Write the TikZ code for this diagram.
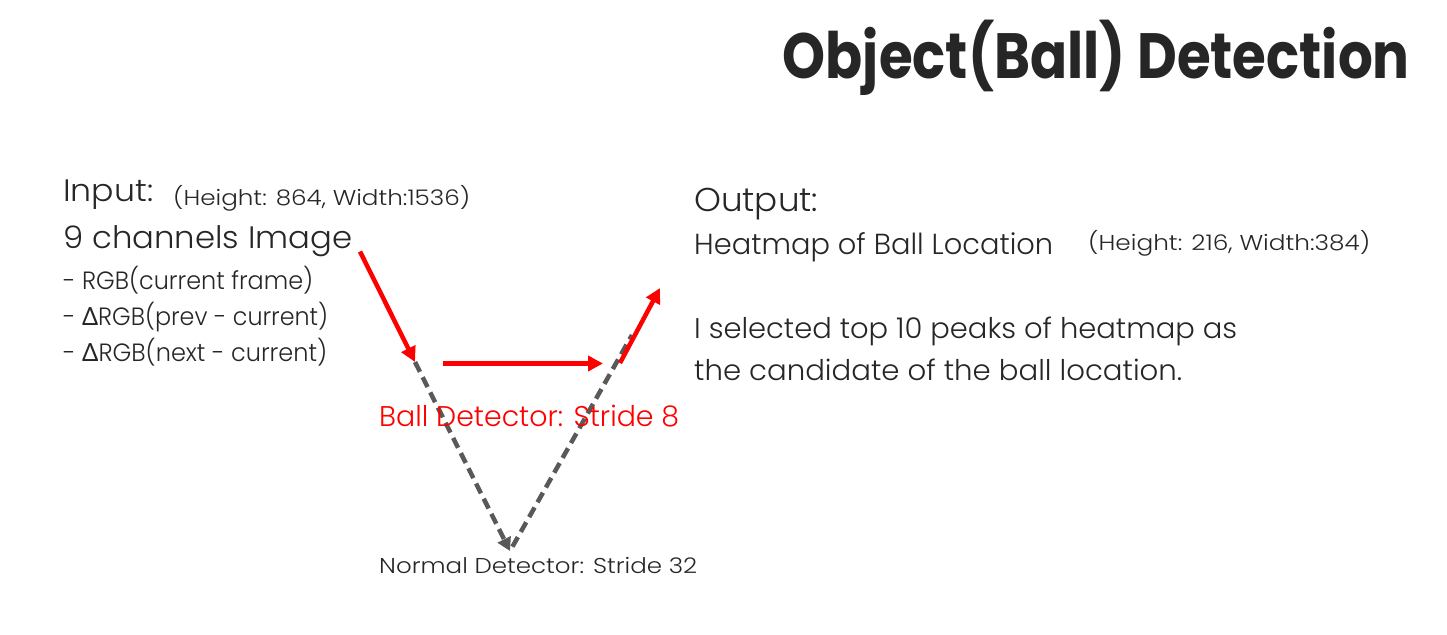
\documentclass[tikz,border=0pt]{standalone}
\usepackage{fontspec}
\setmainfont{Poppins}[UprightFont=* Light, BoldFont=* Bold]
\newfontfamily\dfont{Lato}
\usetikzlibrary{arrows.meta}
\definecolor{txt}{HTML}{262626}
\definecolor{dgray}{HTML}{595959}
\definecolor{bred}{HTML}{FF0000}
\newcommand{\fw}[2]{\resizebox{#1pt}{\height}{#2}}
\tikzset{
  lbl/.style={anchor=base west, inner sep=0pt, text=txt},
  redarrow/.style={draw=bred, line width=4.5pt, -{Triangle[length=15pt,width=15pt]}},
  grayarrow/.style={draw=dgray, line width=4.5pt, dash pattern=on 11pt off 6pt, -{Triangle[length=13pt,width=14pt]}},
  grayline/.style={draw=dgray, line width=4.5pt, dash pattern=on 11pt off 6pt}
}
\begin{document}
\begin{tikzpicture}[x=1pt,y=-1pt]
\useasboundingbox (0,0) rectangle (1447,634);
% title
\node[lbl, anchor=base east] (title) at (1410,78) {\fw{627}{\fontsize{64}{70}\selectfont\bfseries Object(Ball) Detection}};
% input side
\node[lbl] (inp) at (63,201.5) {\fw{90}{\fontsize{31}{34}\selectfont Input:}};
\node[lbl] (inpsz) at (173,205) {\fw{297}{\fontsize{21.5}{24}\selectfont (Height: 864, Width:1536)}};
\node[lbl] (nine) at (63,248) {\fw{289}{\fontsize{31}{34}\selectfont 9 channels Image}};
\node[lbl] (l1) at (63,289) {\fw{250}{\fontsize{25}{28}\selectfont - RGB(current frame)}};
\node[lbl] (l2) at (63,325) {\fw{265}{\fontsize{25}{28}\selectfont - {\dfont Δ}RGB(prev - current)}};
\node[lbl] (l3) at (63,361) {\fw{264}{\fontsize{25}{28}\selectfont - {\dfont Δ}RGB(next - current)}};
% output side
\node[lbl] (out) at (694,211.5) {\fw{124}{\fontsize{33}{36}\selectfont Output:}};
\node[lbl] (heat) at (694,254) {\fw{359}{\fontsize{29}{32}\selectfont Heatmap of Ball Location}};
\node[lbl] (outsz) at (1088,250) {\fw{282}{\fontsize{21.5}{24}\selectfont (Height: 216, Width:384)}};
\node[lbl] (sel1) at (694,338) {\fw{543}{\fontsize{28.5}{32}\selectfont I selected top 10 peaks of heatmap as}};
\node[lbl] (sel2) at (694,380) {\fw{488}{\fontsize{28.5}{32}\selectfont the candidate of the ball location.}};
% coordinates
\coordinate (a1s) at (360,251.5);
\coordinate (a1e) at (415,362);
\coordinate (a2s) at (443,363.5);
\coordinate (a2e) at (603,363.5);
\coordinate (a3s) at (620,363);
\coordinate (a3e) at (660,288);
\coordinate (bot) at (510,551);
\coordinate (rtop) at (632,335);
% gray dashed
\draw[grayarrow] (a1e) -- (bot);
\path (bot) -- (rtop) coordinate[pos=0.02] (bot2);
\draw[grayline] (bot2) -- (rtop);
% labels
\node[lbl, text=bred] (ball) at (379,426.5) {\fw{300}{\fontsize{28.5}{32}\selectfont Ball Detector: Stride 8}};
\node[lbl] (norm) at (379,573) {\fw{318}{\fontsize{21.5}{24}\selectfont Normal Detector: Stride 32}};
% red arrows
\draw[redarrow] (a1s) -- (a1e);
\draw[redarrow] (a2s) -- (a2e);
\draw[redarrow] (a3s) -- (a3e);
\end{tikzpicture}
\end{document}
